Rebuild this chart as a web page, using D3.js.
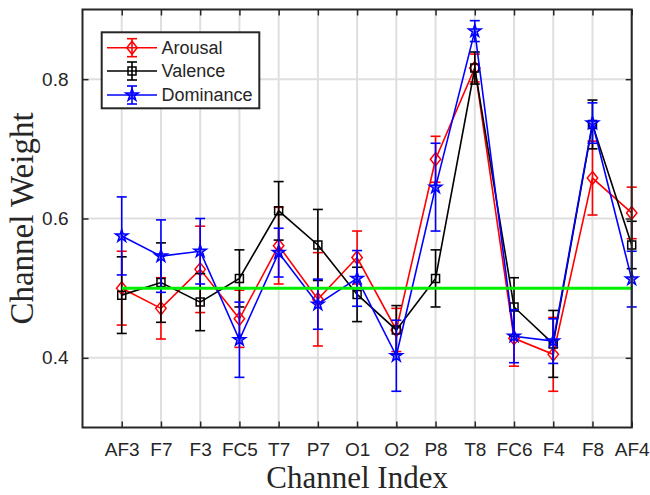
<!DOCTYPE html>
<html>
<head>
<meta charset="utf-8">
<script src="https://cdn.jsdelivr.net/npm/d3@7"></script>
<style>
  html, body { margin: 0; padding: 0; background: #fff; }
  svg { display: block; }
</style>
</head>
<body>
<svg id="chart" width="650" height="495"></svg>
<script>
// EEG channel weights per emotion dimension (mean ± error)
const channels = ["AF3","F7","F3","FC5","T7","P7","O1","O2","P8","T8","FC6","F4","F8","AF4"];
const arousal      = [0.500,0.471,0.527,0.456,0.561,0.484,0.544,0.440,0.685,0.816,0.428,0.405,0.658,0.608];
const arousalErr   = [0.053,0.044,0.062,0.041,0.055,0.067,0.038,0.031,0.033,0.020,0.040,0.053,0.053,0.037];
const valence      = [0.490,0.508,0.480,0.514,0.611,0.562,0.491,0.440,0.514,0.816,0.473,0.420,0.735,0.562];
const valenceErr   = [0.055,0.057,0.041,0.041,0.042,0.051,0.039,0.035,0.041,0.023,0.042,0.048,0.035,0.034];
const dominance    = [0.575,0.546,0.553,0.426,0.551,0.477,0.514,0.403,0.645,0.869,0.431,0.424,0.737,0.513];
const dominanceErr = [0.056,0.052,0.047,0.054,0.035,0.036,0.040,0.051,0.063,0.015,0.038,0.032,0.029,0.040];
const seriesNames  = ["Arousal","Valence","Dominance"];
const yTicks       = [0.4, 0.6, 0.8];
const baseline     = 0.5;

const series = [
  { name: seriesNames[0], values: arousal,   errs: arousalErr,   color: "#ff0000", marker: "diamond" },
  { name: seriesNames[1], values: valence,   errs: valenceErr,   color: "#000000", marker: "square" },
  { name: seriesNames[2], values: dominance, errs: dominanceErr, color: "#0000ff", marker: "star" }
];

const W = 650, H = 495;
const m = { left: 82.5, top: 9.5, right: 18.3, bottom: 67.5 };
const pw = W - m.left - m.right, ph = H - m.top - m.bottom;
const axisColor = "#262626";
const gridColor = "#dfdfdf";
const sans = "'Liberation Sans', Arial, Helvetica, sans-serif";
const serif = "'Liberation Serif', 'Times New Roman', serif";

const svg = d3.select("#chart");
const g = svg.append("g").attr("transform", `translate(${m.left},${m.top})`);

const x = d3.scaleLinear().domain([0, channels.length]).range([0, pw]);
const y = d3.scaleLinear().domain([0.3, 0.9]).range([ph, 0]);
const xi = i => x(i + 1);

// grid
g.append("g").selectAll("line").data(channels).join("line")
  .attr("x1", (d, i) => xi(i)).attr("x2", (d, i) => xi(i))
  .attr("y1", 0).attr("y2", ph)
  .attr("stroke", gridColor).attr("stroke-width", 2);
g.append("g").selectAll("line").data(yTicks).join("line")
  .attr("x1", 0).attr("x2", pw)
  .attr("y1", d => y(d)).attr("y2", d => y(d))
  .attr("stroke", gridColor).attr("stroke-width", 2);

// axes: labels on bottom/left, inward ticks on all four sides
const tickLen = 6;
const xAxis = d3.axisBottom(x)
  .tickValues(d3.range(1, channels.length + 1))
  .tickFormat(d => channels[d - 1])
  .tickSizeInner(-tickLen).tickSizeOuter(0).tickPadding(15);
const yAxis = d3.axisLeft(y)
  .tickValues(yTicks).tickFormat(d3.format(".1f"))
  .tickSizeInner(-tickLen).tickSizeOuter(0).tickPadding(14);
const xTop = d3.axisTop(x).tickValues(d3.range(1, channels.length + 1))
  .tickFormat("").tickSizeInner(-tickLen).tickSizeOuter(0);
const yRight = d3.axisRight(y).tickValues(yTicks)
  .tickFormat("").tickSizeInner(-tickLen).tickSizeOuter(0);

function styleAxis(sel) {
  sel.select(".domain").remove();
  sel.selectAll(".tick line").attr("stroke", axisColor).attr("stroke-width", 1.5);
  sel.selectAll(".tick text").attr("fill", axisColor)
    .style("font-family", sans).style("font-size", "19px");
}
g.append("g").attr("transform", `translate(0,${ph})`).call(xAxis).call(styleAxis);
g.append("g").call(yAxis).call(styleAxis);
g.append("g").call(xTop).call(styleAxis);
g.append("g").attr("transform", `translate(${pw},0)`).call(yRight).call(styleAxis);

// marker shapes
function markerPath(type) {
  if (type === "diamond") return "M0,-6.5L5.2,0L0,6.5L-5.2,0Z";
  if (type === "square") return "M-4,-4H4V4H-4Z";
  return d3.symbol(d3.symbolStar, 48)();
}
function markerFill(s) { return s.marker === "star" ? s.color : "none"; }

const capHalf = 5;
function drawErrorBar(sel, cx, lo, hi, color) {
  sel.append("line").attr("x1", cx).attr("x2", cx).attr("y1", lo).attr("y2", hi)
    .attr("stroke", color).attr("stroke-width", 1.6);
  [lo, hi].forEach(yy => sel.append("line")
    .attr("x1", cx - capHalf).attr("x2", cx + capHalf).attr("y1", yy).attr("y2", yy)
    .attr("stroke", color).attr("stroke-width", 1.6));
}

const line = d3.line().x((d, i) => xi(i)).y(d => y(d));

series.forEach(s => {
  const sg = g.append("g");
  sg.append("path").datum(s.values).attr("d", line)
    .attr("fill", "none").attr("stroke", s.color).attr("stroke-width", 1.6);
  s.values.forEach((v, i) => {
    drawErrorBar(sg, xi(i), y(v - s.errs[i]), y(v + s.errs[i]), s.color);
  });
  sg.selectAll("path.mk").data(s.values).join("path")
    .attr("class", "mk")
    .attr("transform", (d, i) => `translate(${xi(i)},${y(d)})`)
    .attr("d", markerPath(s.marker))
    .attr("fill", markerFill(s)).attr("fill-opacity", 0.45)
    .attr("stroke", s.color).attr("stroke-width", 1.5);
});

// reference level
g.append("line")
  .attr("x1", xi(0)).attr("x2", xi(channels.length - 1))
  .attr("y1", y(baseline)).attr("y2", y(baseline))
  .attr("stroke", "#00f000").attr("stroke-width", 3);

// frame
g.append("rect").attr("x", 0).attr("y", 0).attr("width", pw).attr("height", ph)
  .attr("fill", "none").attr("stroke", axisColor).attr("stroke-width", 2);

// legend
const lg = svg.append("g");
const lx = 101.7, ly = 32.3, lw = 157.6, lh = 76;
lg.append("rect").attr("x", lx).attr("y", ly).attr("width", lw).attr("height", lh)
  .attr("fill", "#fff").attr("stroke", axisColor).attr("stroke-width", 2);
const rowY = [47.7, 71, 95];
series.forEach((s, k) => {
  const ry = rowY[k];
  lg.append("line").attr("x1", 107).attr("x2", 157).attr("y1", ry).attr("y2", ry)
    .attr("stroke", s.color).attr("stroke-width", 1.6);
  drawErrorBar(lg, 132, ry + 9, ry - 9, s.color);
  lg.append("path").attr("transform", `translate(132,${ry})`)
    .attr("d", markerPath(s.marker))
    .attr("fill", markerFill(s)).attr("fill-opacity", 0.45)
    .attr("stroke", s.color).attr("stroke-width", 1.5);
  lg.append("text").attr("x", 161.5).attr("y", ry).attr("dy", "0.35em")
    .attr("fill", axisColor).style("font-family", sans).style("font-size", "18px")
    .text(s.name);
});

// axis titles
svg.append("text")
  .attr("x", m.left + pw / 2).attr("y", 488.3)
  .attr("text-anchor", "middle").attr("fill", axisColor)
  .style("font-family", serif).style("font-size", "31px")
  .text("Channel Index");
svg.append("text")
  .attr("transform", `translate(33,${m.top + ph / 2}) rotate(-90)`)
  .attr("text-anchor", "middle").attr("fill", axisColor)
  .style("font-family", serif).style("font-size", "33px")
  .text("Channel Weight");
</script>
</body>
</html>
